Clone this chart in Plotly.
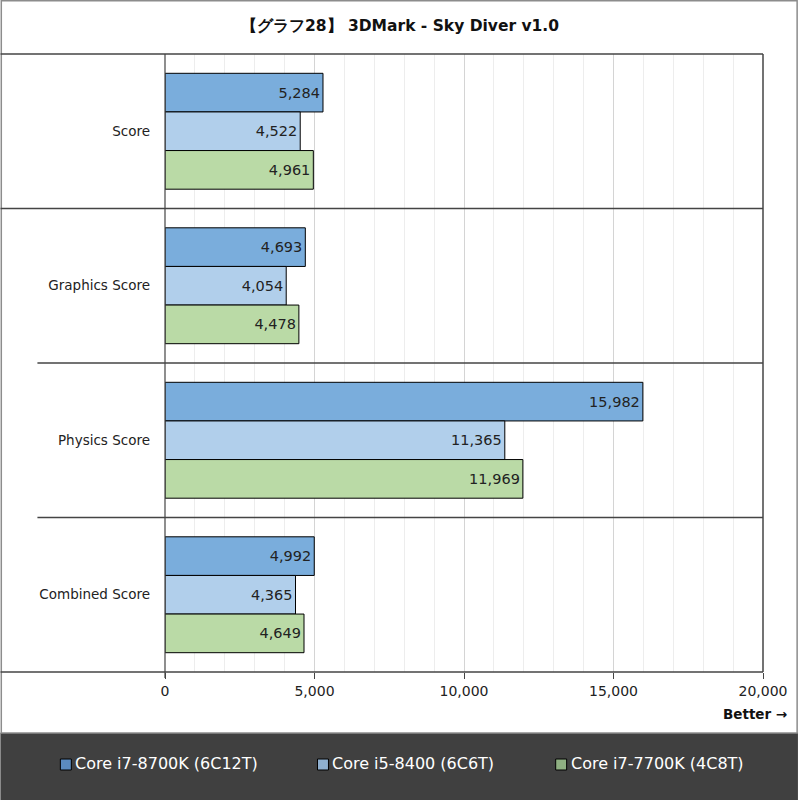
import plotly.graph_objects as go

categories = ["Score", "Graphics Score", "Physics Score", "Combined Score"]
series_names = ["Core i7-8700K (6C12T)", "Core i5-8400 (6C6T)", "Core i7-7700K (4C8T)"]
i7_8700k = [5284, 4693, 15982, 4992]
i5_8400 = [4522, 4054, 11365, 4365]
i7_7700k = [4961, 4478, 11969, 4649]
x_ticks = [0, 5000, 10000, 15000, 20000]

bar_colors = ["#7aaddc", "#b1cfeb", "#badaa6"]
legend_colors = ["#5b8bbf", "#8fb0d0", "#8fb082"]

W, H = 800, 800
L, R, T, B = 165, 35, 54, 128
PW, PH = W - L - R, H - T - B


def px(x):
    return (x - L) / PW


def py(y):
    return (H - B - y) / PH


FONT = "DejaVu Sans"
fig = go.Figure()
for name, vals, col in zip(series_names, [i7_8700k, i5_8400, i7_7700k], bar_colors):
    fig.add_trace(go.Bar(
        y=categories, x=vals, name=name, orientation="h",
        marker=dict(color=col, line=dict(color="#000000", width=1)),
        text=[f"{v:,}" for v in vals], textposition="inside",
        insidetextanchor="end", textangle=0,
        textfont=dict(family=FONT, size=14.5, color="#222222"),
        showlegend=False, cliponaxis=False, hoverinfo="skip",
    ))

shapes = []
# outer frame
shapes.append(dict(type="rect", xref="paper", yref="paper",
                   x0=px(0.75), x1=px(799.25), y0=py(799.25), y1=py(0.75),
                   line=dict(color="#8c8c8c", width=1.5), layer="below"))
# legend band
shapes.append(dict(type="rect", xref="paper", yref="paper",
                   x0=px(0), x1=px(800), y0=py(800), y1=py(733),
                   fillcolor="#404040", line=dict(width=0), layer="above"))
shapes.append(dict(type="line", xref="paper", yref="paper",
                   x0=px(0), x1=px(800), y0=py(733), y1=py(733),
                   line=dict(color="#8c8c8c", width=1.5)))
# top and bottom frame lines
for yy in [54, 672]:
    shapes.append(dict(type="line", xref="paper", yref="paper",
                       x0=px(0), x1=px(765), y0=py(yy), y1=py(yy),
                       line=dict(color="#444444", width=1.5)))
# right border
shapes.append(dict(type="line", xref="paper", yref="paper",
                   x0=px(765), x1=px(765), y0=py(672), y1=py(54),
                   line=dict(color="#444444", width=1.5)))
# left axis line
shapes.append(dict(type="line", xref="paper", yref="paper",
                   x0=px(165), x1=px(165), y0=py(678), y1=py(54),
                   line=dict(color="#444444", width=1.2)))
# category separators
sep_starts = [0, 37, 37]
for i, xs in enumerate(sep_starts):
    shapes.append(dict(type="line", xref="paper", yref="y",
                       x0=px(xs), x1=px(765), y0=i + 0.5, y1=i + 0.5,
                       line=dict(color="#444444", width=1.5)))

annotations = [
    dict(text="<b>【グラフ28】 3DMark - Sky Diver v1.0</b>", xref="paper", yref="paper",
         x=px(401), y=py(26), showarrow=False, xanchor="center", yanchor="middle",
         font=dict(family=FONT, size=15.5, color="#111111")),
    dict(text="<b>Better →</b>", xref="paper", yref="paper",
         x=px(791), y=py(714), showarrow=False, xanchor="right", yanchor="middle",
         font=dict(family=FONT, size=13.5, color="#111111")),
]
leg_x = [60, 318, 557]
for lx, name, col in zip(leg_x, series_names, legend_colors):
    shapes.append(dict(type="rect", xref="paper", yref="paper",
                       x0=px(lx), x1=px(lx + 11), y0=py(770), y1=py(759),
                       fillcolor=col, line=dict(color="#000000", width=1), layer="above"))
    annotations.append(dict(text=name, xref="paper", yref="paper",
                            x=px(lx + 13), y=py(763.5), showarrow=False,
                            xanchor="left", yanchor="middle",
                            font=dict(family=FONT, size=16, color="#ffffff")))

fig.update_layout(
    width=W, height=H, margin=dict(l=L, r=R, t=T, b=B),
    paper_bgcolor="#ffffff", plot_bgcolor="#ffffff",
    barmode="group", bargap=0.25, bargroupgap=0,
    shapes=shapes, annotations=annotations,
    font=dict(family=FONT, size=13.5, color="#222222"),
    hovermode=False,
)
fig.update_xaxes(
    range=[0, 20000], tickvals=x_ticks, ticktext=[f"{v:,}" for v in x_ticks],
    showgrid=True, gridcolor="#d4d4d4", gridwidth=1,
    minor=dict(dtick=1000, showgrid=True, gridcolor="#ededed", gridwidth=1),
    ticks="outside", ticklen=6, tickcolor="#444444",
    showline=False, zeroline=False,
    tickfont=dict(family=FONT, size=14, color="#222222"),
)
fig.update_yaxes(
    autorange="reversed", showgrid=False, zeroline=False, showline=False,
    ticks="", ticklabelstandoff=14,
    tickfont=dict(family=FONT, size=13.5, color="#222222"),
)
fig.write_html("out.html", config={"displayModeBar": False},
               post_script="document.body.style.margin='0';document.body.style.overflow='hidden';")
